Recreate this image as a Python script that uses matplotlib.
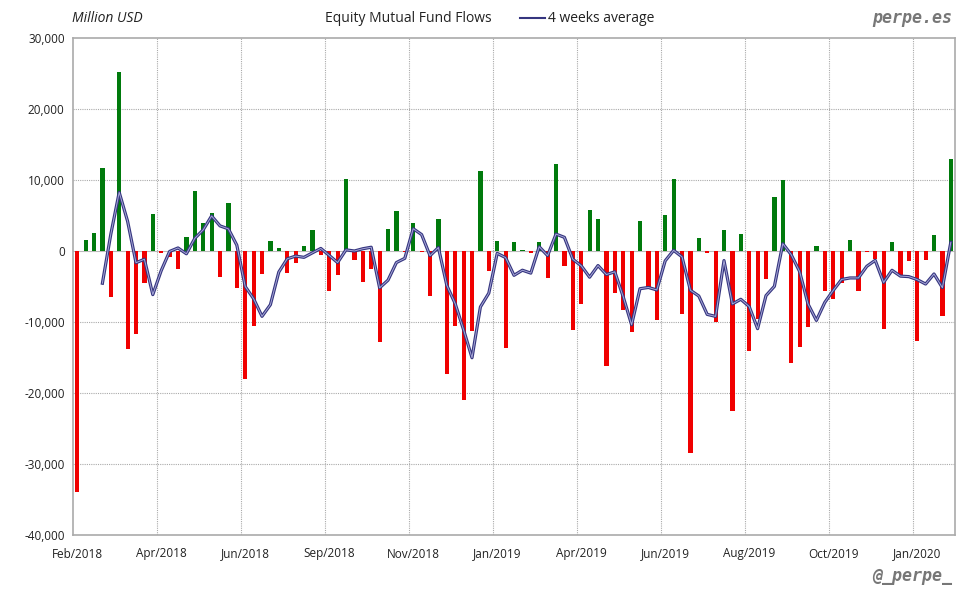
import numpy as np
import pandas as pd
import matplotlib
matplotlib.use("Agg")
import matplotlib.pyplot as plt
from matplotlib.ticker import FuncFormatter

# weekly equity mutual fund flows, million USD
flows = [
    -34000, 1550, 2580, 11720, -6420, 25180, -13740, -11630, -4450, 5250,
    -250, -800, -2480, 1970, 8440, 3990, 5340, -3610, 6750, -5160,
    -17960, -10500, -3190, 1400, 420, -3050, -1640, 700, 2950, -560,
    -5580, -3330, 10130, -1220, -4310, -2480, -12750, 3090, 5630, -100,
    3940, -200, -6280, 4500, -17390, -10500, -21050, -11200, 11250, -2770,
    1400, -13600, 1270, 100, -230, 1270, -3750, 12240, -2060, -11060,
    -7410, 5770, 4500, -16130, -5860, -8250, -11350, 4220, -5160, -9660,
    5060, 10130, -8810, -28500, 1830, -230, -9940, 2950, -22600, 2390,
    -14020, -9520, -3990, 7640, 9990, -15710, -13460, -10640, 700, -5580,
    -6700, -4450, 1550, -5580, -140, -1080, -10920, 1270, -3420, -1360,
    -12610, -1220, 2250, -9100, 12940,
]
tick_pos = [0, 10, 20, 30, 40, 50, 60, 70, 80, 90, 100]
tick_labels = ["Feb/2018", "Apr/2018", "Jun/2018", "Sep/2018", "Nov/2018",
               "Jan/2019", "Apr/2019", "Jun/2019", "Aug/2019", "Oct/2019",
               "Jan/2020"]

s = pd.Series(flows, dtype=float)
avg4 = s.rolling(4).mean()
x = np.arange(len(s))

plt.rcParams['font.family'] = ['Open Sans', 'DejaVu Sans']

fig = plt.figure(figsize=(9.8, 6), dpi=100)
ax = fig.add_axes([73/980, 1-535/600, 882/980, 497/600])

colors = np.where(s.values >= 0, '#007a0c', '#f00000')
ax.bar(x, s.values, width=0.5, color=colors, zorder=3)
ax.axhline(0, color='#bbbbbb', lw=0.8, zorder=2)

# 4 weeks average, drawn as a dark line with a light core
ax.plot(x, avg4.values, color='#35357f', lw=2.3, zorder=4, solid_joinstyle='round')
ax.plot(x, avg4.values, color='#a8a8d8', lw=0.7, zorder=5)

ax.set_xlim(-0.5, len(s) - 0.5)
ax.set_ylim(-40000, 30000)
ax.set_yticks(np.arange(-40000, 30001, 10000))
ax.yaxis.set_major_formatter(FuncFormatter(lambda v, p: "{:,.0f}".format(v)))
ax.set_xticks(tick_pos)
ax.set_xticklabels(tick_labels)
ax.tick_params(length=0, labelsize=8.5, colors='#222222', pad=6)
ax.tick_params(axis='x', pad=9)

# grid: horizontal at y ticks, vertical between weeks every 10
for yv in np.arange(-30000, 30000, 10000):
    if yv != 0:
        ax.axhline(yv, color='#aaaaaa', lw=0.8, ls=(0, (1, 1)), zorder=1)
for xv in np.arange(9.5, len(s), 10):
    ax.axvline(xv, color='#aaaaaa', lw=0.8, ls=(0, (1, 1)), zorder=1)

for sp in ax.spines.values():
    sp.set_color('#aaaaaa')
    sp.set_linewidth(1.2)

fig.text(72/980, 1-18/600, "Million USD", fontsize=10, style='italic',
         va='center', ha='left', color='#222222')
fig.text(325/980, 1-18/600, "Equity Mutual Fund Flows", fontsize=10,
         va='center', ha='left', color='#222222')
fig.lines.append(plt.Line2D([520/980, 545/980], [1-18/600, 1-18/600],
                            color='#35357f', lw=1.5, transform=fig.transFigure))
fig.text(548/980, 1-18/600, "4 weeks average", fontsize=10,
         va='center', ha='left', color='#222222')
fig.text(952/980, 1-18/600, "perpe.es", fontsize=12, family='DejaVu Sans Mono',
         weight='bold', style='italic', color='#777777', ha='right', va='center')
fig.text(952/980, 1-576/600, "@_perpe_", fontsize=12, family='DejaVu Sans Mono',
         weight='bold', style='italic', color='#777777', ha='right', va='center')

fig.savefig("out.png", dpi=100)
